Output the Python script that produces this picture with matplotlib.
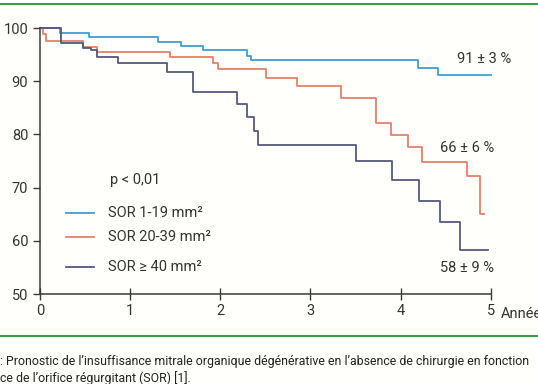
import numpy as np
import matplotlib as mpl
mpl.use('Agg')
import matplotlib.pyplot as plt
from matplotlib.lines import Line2D

mpl.rcParams['font.family']=['Roboto','DejaVu Sans']

# Kaplan-Meier steps (years, survival %)
t_small=[0,0.22,0.54,1.31,1.56,1.81,2.30,2.34,4.19,4.42,5.0]
s_small=[100,99.1,98.3,97.4,96.6,95.9,94.8,93.9,92.5,91.2,91.2]

t_mid=[0,0.03,0.07,0.48,0.63,1.44,1.92,1.98,2.51,2.85,3.34,3.73,3.89,4.08,4.24,4.74,4.88,4.93]
s_mid=[100,98.8,97.6,96.5,95.5,94.6,93.4,92.3,90.6,89.1,86.8,82.1,79.9,77.6,74.8,72.2,65.1,65.1]

t_big=[0,0.23,0.48,0.57,0.63,0.87,1.41,1.70,2.18,2.30,2.37,2.42,3.51,3.90,4.20,4.44,4.66,4.97]
s_big=[100,97.2,96.2,95.9,94.6,93.5,91.8,88.0,85.7,83.2,80.6,78.1,75.0,71.4,67.4,63.6,58.3,58.3]

labels=['SOR 1-19 mm²','SOR 20-39 mm²','SOR ≥ 40 mm²']
colors=['#3f9fd3','#e58068','#54587e']
end_labels=['91 ± 3 %','66 ± 6 %','58 ± 9 %']

bg='#fffffb'
txt='#333333'
fs=10.5
fig=plt.figure(figsize=(5.38,3.84),dpi=100,facecolor=bg)
ax=fig.add_axes([40/538,1-294/384,450.7/538,266/384])
ax.set_facecolor(bg)

for t,s,c in zip([t_small,t_mid,t_big],[s_small,s_mid,s_big],colors):
    ax.step(t,s,where='post',color=c,lw=1.3,clip_on=False)

ax.set_xlim(0,5)
ax.set_ylim(50,100)
ax.set_xticks(range(6))
ax.set_yticks(range(50,101,10))
for sp in ['top','right']:
    ax.spines[sp].set_visible(False)
for sp in ['left','bottom']:
    ax.spines[sp].set_color('#3a3a3a')
    ax.spines[sp].set_linewidth(1.1)
ax.tick_params(colors='#3a3a3a',labelcolor=txt,labelsize=fs,length=5,width=1)
ax.tick_params(axis='x',direction='inout',length=8,pad=3)

# end-of-curve percentages
ax.text(4.93,94.1,end_labels[0],fontsize=fs,color=txt,ha='center',va='center')
ax.text(4.74,77.4,end_labels[1],fontsize=fs,color=txt,ha='center',va='center')
ax.text(4.74,54.9,end_labels[2],fontsize=fs,color=txt,ha='center',va='center')

ax.text(0.78,71.4,'p < 0,01',fontsize=fs,color=txt,ha='left',va='center')

# hand-placed legend
for lab,c,yy in zip(labels,colors,[65.2,60.7,55.1]):
    ax.plot([0.29,0.60],[yy,yy],color=c,lw=1.3)
    ax.text(0.75,yy,lab,fontsize=fs,color=txt,ha='left',va='center')

fig.text(501/538,1-314/384,'Années',fontsize=fs,color=txt,ha='left',va='center')

# green rules and caption
fig.add_artist(Line2D([0,1],[1-4/384,1-4/384],color='#3d9a45',lw=1.5,transform=fig.transFigure))
fig.add_artist(Line2D([0,1],[1-336/384,1-336/384],color='#3d9a45',lw=1.5,transform=fig.transFigure))
fig.text(0,1-362/384,': Pronostic de l’insuffisance mitrale organique dégénérative en l’absence de chirurgie en fonction',
         fontsize=8.95,color='#222222',ha='left',va='center')
fig.text(0,1-378/384,'ce de l’orifice régurgitant (SOR) [1].',fontsize=8.95,color='#222222',ha='left',va='center')

fig.savefig('out.png',dpi=100,facecolor=bg)
